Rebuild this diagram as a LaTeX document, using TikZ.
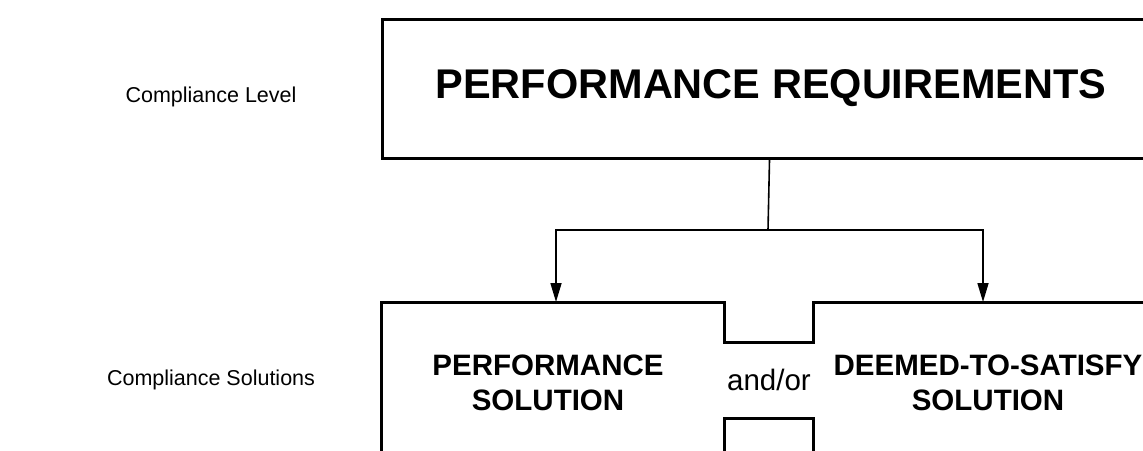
\documentclass[tikz,border=0pt]{standalone}
\usepackage{fontspec}
\setmainfont{Liberation Sans}
\usetikzlibrary{arrows.meta}
\tikzset{
  heavy/.style={line width=3pt, line join=miter},
  conn/.style={line width=1.6pt, -{Triangle[length=19pt,width=11pt]}},
  bigtxt/.style={font=\fontsize{41.5}{48}\selectfont\bfseries},
  boxtxt/.style={font=\fontsize{29.5}{35}\selectfont\bfseries, align=center},
  lbl/.style={font=\fontsize{21.5}{26}\selectfont},
}
\begin{document}
\begin{tikzpicture}[x=1pt,y=-1pt]
\useasboundingbox (0,0) rectangle (1143,450);
\clip (0,0) rectangle (1143,450);
\node[heavy, draw, minimum width=774pt, minimum height=139pt, inner sep=0pt, anchor=north west] (req) at (381,18) {};
\node[bigtxt] (reqtxt) at (771,88) {PERFORMANCE REQUIREMENTS};
\node[lbl] (lvl) at (211,97) {Compliance Level};
\node[lbl] (sol) at (211,380) {Compliance Solutions};
\coordinate (ltop) at (556,302);
\coordinate (rtop) at (983,302);
\coordinate (split) at (768,230);
\draw[line width=1.6pt] (req.south) -- (split);
\draw[conn] (split) -| (ltop);
\draw[conn] (split) -| (rtop);
\draw[heavy] (381,470) -- (381,302) -- (724,302) -- (724,342) -- (813,342) -- (813,302) -- (1170,302);
\draw[heavy] (724,470) -- (724,418) -- (813,418) -- (813,470);
\node[boxtxt] (perf) at (548,383) {PERFORMANCE\\SOLUTION};
\node[boxtxt] (dts) at (988,383) {DEEMED-TO-SATISFY\\SOLUTION};
\node[font=\fontsize{29.5}{35}\selectfont] (andor) at (769,380) {and/or};
\end{tikzpicture}
\end{document}
